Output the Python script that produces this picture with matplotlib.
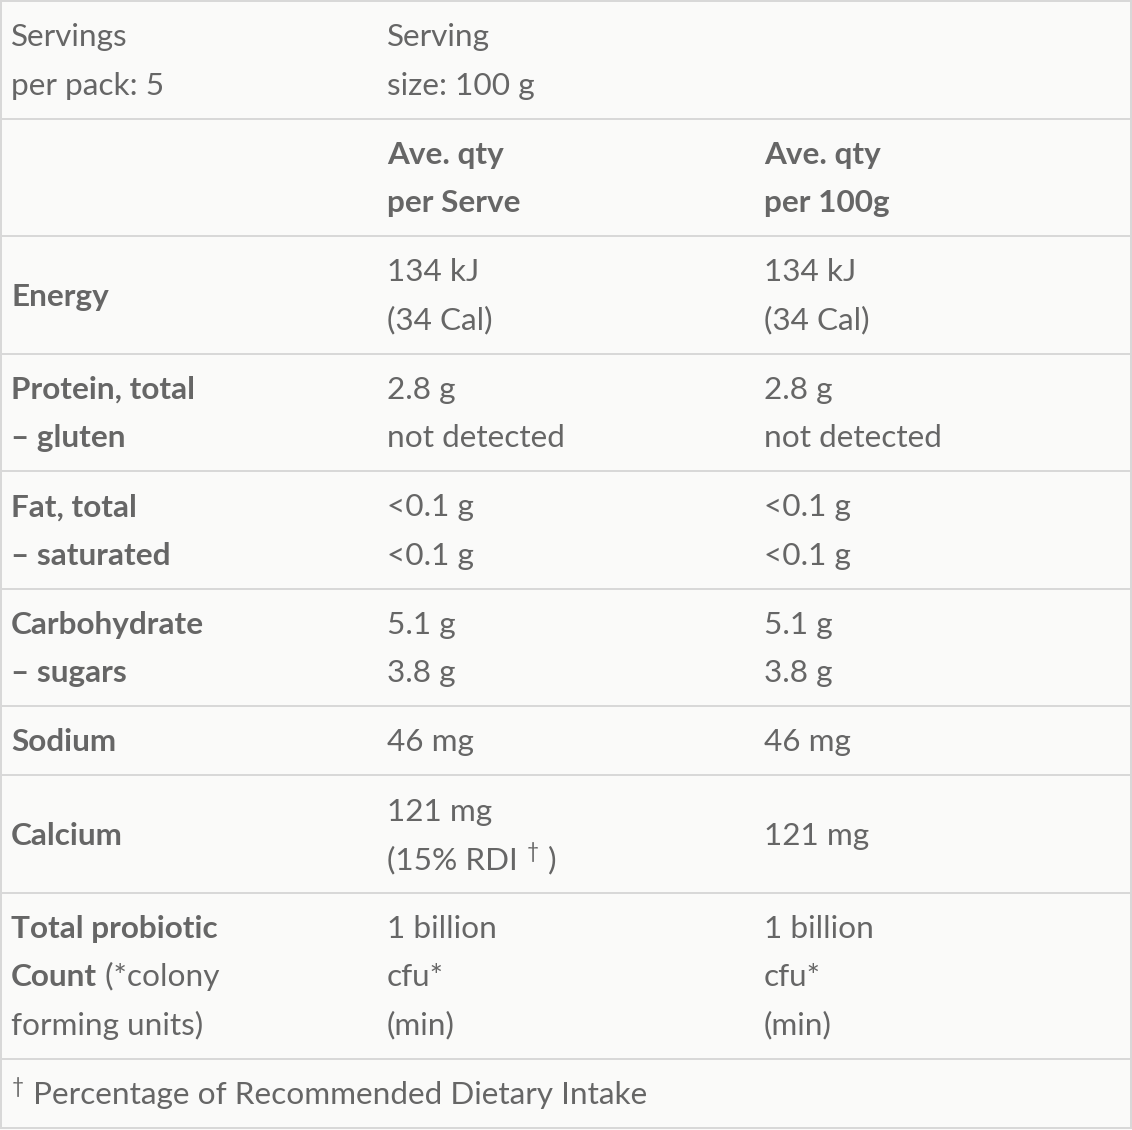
import matplotlib
matplotlib.use('Agg')
import matplotlib.pyplot as plt

W, H = 1132, 1130
TEXT = '#666666'
LINE = '#d8d8d8'
BG = '#fafaf9'
PX = 0.72            # points per pixel at dpi 100
FS = 31.5 * PX
plt.rcParams['font.family'] = ['Lato', 'DejaVu Sans']

# each cell is a list of lines, each line a list of (text, style): b=bold, r=regular, s=superscript
servings = [[('Servings', 'r')], [('per pack: 5', 'r')]]
serving_size = [[('Serving', 'r')], [('size: 100 g', 'r')]]
head_serve = [[('Ave. qty', 'b')], [('per Serve', 'b')]]
head_100g = [[('Ave. qty', 'b')], [('per 100g', 'b')]]

nutrients = [
    [[('Energy', 'b')]],
    [[('Protein, total', 'b')], [('– gluten', 'b')]],
    [[('Fat, total', 'b')], [('– saturated', 'b')]],
    [[('Carbohydrate', 'b')], [('– sugars', 'b')]],
    [[('Sodium', 'b')]],
    [[('Calcium', 'b')]],
    [[('Total probiotic', 'b')], [('Count', 'b'), (' (*colony', 'r')], [('forming units)', 'r')]],
]
per_serve = [
    ['134 kJ', '(34 Cal)'],
    ['2.8 g', 'not detected'],
    ['<0.1 g', '<0.1 g'],
    ['5.1 g', '3.8 g'],
    ['46 mg'],
    ['121 mg', '(15% RDI '],
    ['1 billion', 'cfu*', '(min)'],
]
per_100g = [
    ['134 kJ', '(34 Cal)'],
    ['2.8 g', 'not detected'],
    ['<0.1 g', '<0.1 g'],
    ['5.1 g', '3.8 g'],
    ['46 mg'],
    ['121 mg'],
    ['1 billion', 'cfu*', '(min)'],
]
footnote = [[('†', 's'), (' Percentage of Recommended Dietary Intake', 'r')]]


def plain(lines):
    return [[(t, 'r')] for t in lines]


serve_cells = [plain(v) for v in per_serve]
serve_cells[5][1] += [('†', 's'), (' )', 'r')]   # "(15% RDI † )"
g100_cells = [plain(v) for v in per_100g]

rows = [[servings, serving_size, []], [[], head_serve, head_100g]]
rows += [[n, s, g] for n, s, g in zip(nutrients, serve_cells, g100_cells)]
rows += [[footnote]]

fig = plt.figure(figsize=(W / 100, H / 100), dpi=100)
fig.patch.set_facecolor(BG)
ax = fig.add_axes([0, 0, 1, 1])
ax.set_xlim(0, W)
ax.set_ylim(H, 0)
ax.axis('off')
renderer = fig.canvas.get_renderer()

PITCH = 48.3
PAD = 20.9
BASE = 35
col_x = [11, 387, 764]


def draw_line(x, y, segs):
    for text, style in segs:
        if style == 's':
            t = ax.text(x + 1, y - 11, text, fontsize=FS * 0.66, color=TEXT, va='baseline')
        else:
            t = ax.text(x, y, text, fontsize=FS, color=TEXT, va='baseline',
                        fontweight='bold' if style == 'b' else 'normal')
        bb = t.get_window_extent(renderer)
        x = bb.x1 + (1 if style == 's' else 0)


top = 1
lines_y = [top]
for row in rows:
    n = max(len(c) for c in row)
    rh = PAD + PITCH * n
    for c, cell in enumerate(row):
        start = top + (rh - len(cell) * PITCH) / 2
        for i, segs in enumerate(cell):
            draw_line(col_x[c], start + BASE + PITCH * i, segs)
    top += rh
    lines_y.append(top)

for y in lines_y:
    ax.plot([0, W], [y, y], color=LINE, lw=2 * PX, solid_capstyle='butt')
ax.plot([1, 1], [0, lines_y[-1]], color=LINE, lw=2 * PX)
ax.plot([W - 1, W - 1], [0, lines_y[-1]], color=LINE, lw=2 * PX)

fig.savefig('out.png', dpi=100, facecolor=BG)
